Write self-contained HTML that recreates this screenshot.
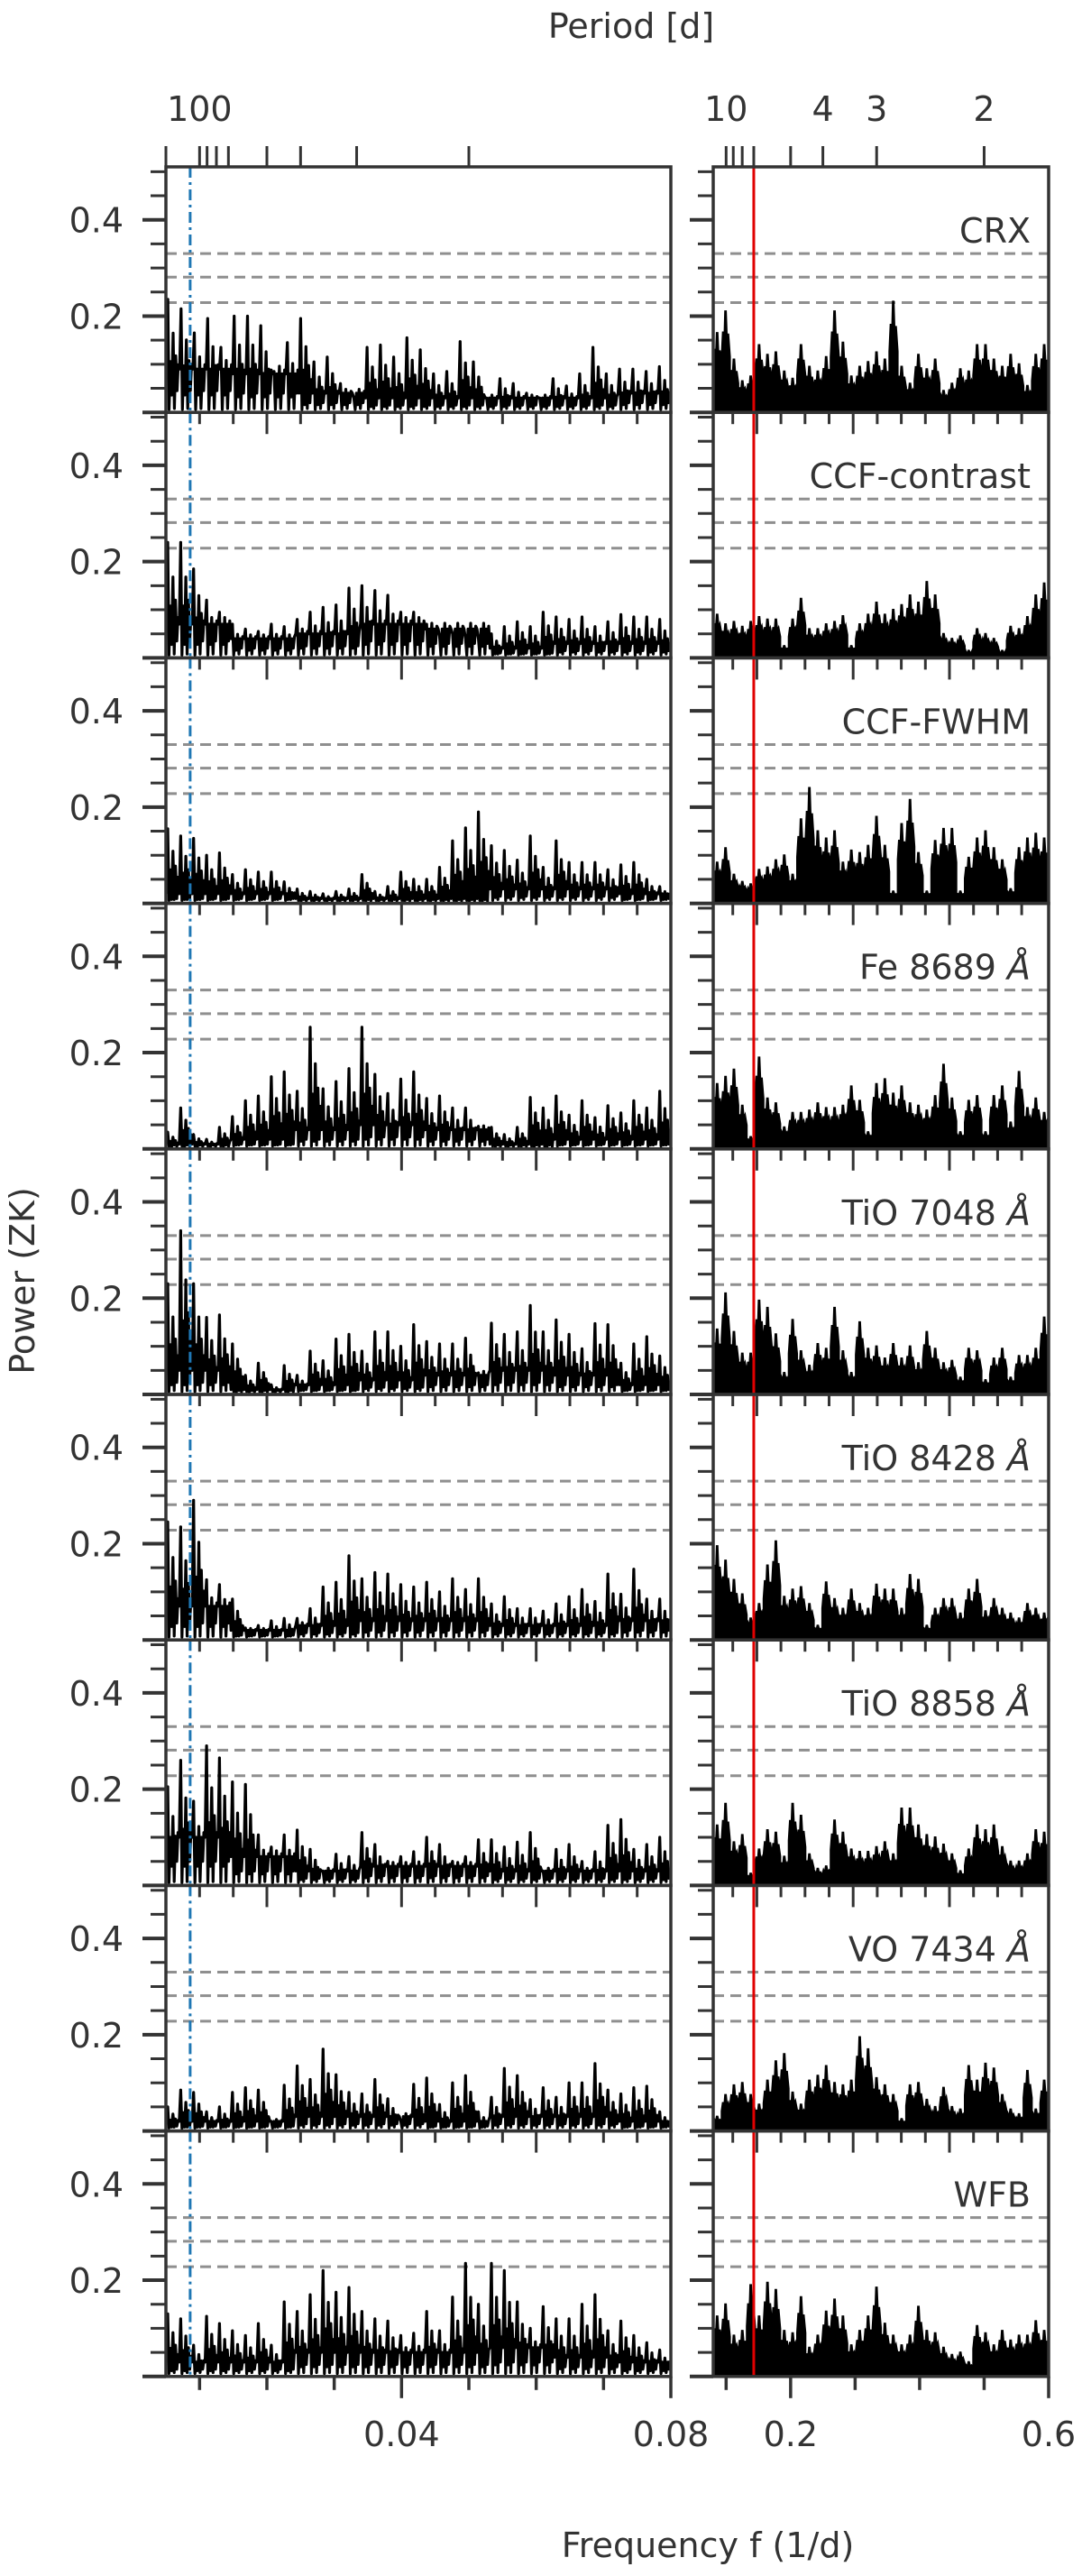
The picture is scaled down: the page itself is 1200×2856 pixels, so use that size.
<!DOCTYPE html>
<html><head><meta charset="utf-8">
<style>
html,body{margin:0;padding:0;background:#fff;}
svg text{font-family:"DejaVu Sans","Liberation Sans",sans-serif;fill:#333;}
</style></head>
<body>
<svg id="fig" xmlns="http://www.w3.org/2000/svg" width="1200" height="2851" viewBox="0 0 1200 2851">
<text x="700" y="42" font-size="38" text-anchor="middle">Period [d]</text>
<text x="785" y="2835" font-size="38" text-anchor="middle">Frequency f (1/d)</text>
<text x="0" y="0" font-size="38" text-anchor="middle" transform="translate(38,1420) rotate(-90)">Power (ZK)</text>
<g id="plots"></g>
</svg>
<script>
// ---- data ----
const panelNames = ["CRX","CCF-contrast","CCF-FWHM","Fe 8689 ","TiO 7048 ","TiO 8428 ","TiO 8858 ","VO 7434 ","WFB"];
const fapLevels = [0.33, 0.281, 0.228];
const blueLineFreq = 0.0086;
const redLineFreq = 1/7;
const topPeriodsLeft = [200,100,90,80,70,50,40,30,20];
const topPeriodsRight = [10,9,8,7,5,4,3,2];
const topLabelPeriods = [100,10,4,3,2];
const yTickLabels = [0.2,0.4];

const crxLeft = [0.235,0.215,0.165,0.195,0.135,0.2,0.2,0.18,0.085,0.145,0.195,0.105,0.115,0.06,0.03,0.135,0.14,0.115,0.155,0.13,0.08,0.085,0.147,0.105,0.03,0.07,0.06,0.04,0.03,0.07,0.055,0.08,0.135,0.08,0.09,0.09,0.085,0.095];
const crxBase = [0.09,0.08,0.04,0.03,0.03,0.03,0.03,0.04];
const ccfcLeft = [0.24,0.24,0.185,0.12,0.095,0.07,0.06,0.055,0.07,0.065,0.08,0.095,0.105,0.11,0.145,0.15,0.14,0.13,0.095,0.095,0.07,0.045,0.05,0.04,0.04,0.05,0.065,0.075,0.065,0.095,0.085,0.08,0.085,0.065,0.075,0.09,0.085,0.085,0.08];
const ccfcBase = [0.07,0.04,0.05,0.07,0.06,0.02,0.03,0.03];
const ccfwLeft = [0.155,0.14,0.135,0.1,0.105,0.06,0.07,0.065,0.065,0.045,0.03,0.025,0.02,0.025,0.03,0.06,0.025,0.035,0.065,0.05,0.05,0.075,0.13,0.157,0.19,0.12,0.11,0.09,0.14,0.075,0.13,0.085,0.085,0.085,0.07,0.08,0.085,0.05,0.035];
const ccfwBase = [0.02,0.02,0.01,0.01,0.01,0.03,0.03,0.02];
const feLeft = [0.035,0.085,0.03,0.02,0.045,0.067,0.1,0.11,0.15,0.16,0.12,0.253,0.125,0.14,0.167,0.253,0.155,0.115,0.145,0.16,0.105,0.11,0.085,0.085,0.047,0.045,0.03,0.045,0.107,0.085,0.11,0.07,0.1,0.065,0.09,0.075,0.1,0.085,0.12];
const feBase = [0.01,0.02,0.04,0.05,0.04,0.01,0.02,0.02];
const tio7048Left = [0.23,0.34,0.23,0.16,0.165,0.105,0.04,0.065,0.02,0.06,0.04,0.09,0.07,0.115,0.125,0.09,0.13,0.13,0.1,0.145,0.11,0.105,0.105,0.117,0.045,0.148,0.125,0.13,0.185,0.13,0.155,0.125,0.095,0.147,0.145,0.065,0.105,0.12,0.08];
const tio7048Base = [0.05,0.01,0.02,0.03,0.04,0.05,0.04,0.02];
const tio8428Left = [0.245,0.235,0.29,0.125,0.115,0.085,0.025,0.03,0.04,0.045,0.045,0.065,0.11,0.12,0.175,0.127,0.14,0.137,0.115,0.11,0.12,0.1,0.127,0.105,0.127,0.075,0.09,0.065,0.065,0.06,0.075,0.09,0.105,0.08,0.137,0.095,0.147,0.085,0.085];
const tio8428Base = [0.07,0.02,0.03,0.04,0.04,0.03,0.03,0.04];
const tio8858Left = [0.205,0.26,0.175,0.29,0.265,0.215,0.21,0.105,0.08,0.105,0.115,0.075,0.03,0.065,0.06,0.11,0.085,0.05,0.06,0.07,0.1,0.085,0.05,0.06,0.095,0.095,0.08,0.09,0.11,0.03,0.075,0.085,0.05,0.07,0.125,0.137,0.075,0.085,0.1];
const tio8858Base = [0.1,0.06,0.03,0.04,0.04,0.03,0.03,0.03];
const voLeft = [0.05,0.085,0.08,0.04,0.05,0.08,0.09,0.085,0.02,0.095,0.135,0.107,0.17,0.117,0.08,0.077,0.107,0.067,0.02,0.097,0.11,0.055,0.1,0.115,0.04,0.07,0.13,0.115,0.065,0.09,0.07,0.1,0.1,0.14,0.085,0.077,0.09,0.093,0.04];
const voBase = [0.02,0.02,0.03,0.03,0.02,0.03,0.03,0.02];
const wfbLeft = [0.13,0.12,0.065,0.125,0.11,0.095,0.085,0.11,0.065,0.155,0.135,0.17,0.22,0.175,0.185,0.135,0.12,0.115,0.085,0.09,0.135,0.095,0.165,0.235,0.15,0.235,0.22,0.155,0.1,0.145,0.12,0.12,0.15,0.17,0.095,0.115,0.085,0.07,0.055];
const wfbBase = [0.03,0.03,0.05,0.05,0.05,0.06,0.04,0.03];

const crxRight = [0.165,0.21,0.11,0.065,0.075,0.14,0.12,0.125,0.085,0.07,0.14,0.095,0.085,0.115,0.21,0.145,0.075,0.095,0.105,0.125,0.11,0.23,0.095,0.06,0.12,0.09,0.11,0.045,0.06,0.09,0.085,0.14,0.14,0.11,0.095,0.12,0.1,0.055,0.12,0.14];
const ccfcRight = [0.09,0.07,0.075,0.065,0.075,0.085,0.08,0.08,0.025,0.08,0.123,0.06,0.06,0.07,0.075,0.087,0.025,0.07,0.09,0.115,0.09,0.1,0.11,0.13,0.115,0.158,0.13,0.05,0.04,0.045,0.015,0.06,0.05,0.04,0.015,0.065,0.06,0.085,0.13,0.155];
const ccfwRight = [0.085,0.115,0.06,0.045,0.04,0.07,0.075,0.09,0.1,0.06,0.175,0.24,0.15,0.135,0.15,0.085,0.11,0.105,0.12,0.18,0.12,0.025,0.165,0.215,0.105,0.025,0.13,0.155,0.155,0.025,0.095,0.135,0.15,0.115,0.09,0.03,0.115,0.135,0.145,0.135];
const feRight = [0.135,0.15,0.165,0.09,0.025,0.19,0.105,0.095,0.045,0.075,0.075,0.08,0.095,0.085,0.085,0.09,0.13,0.1,0.035,0.135,0.145,0.115,0.13,0.095,0.09,0.08,0.11,0.175,0.105,0.035,0.1,0.11,0.035,0.11,0.13,0.055,0.16,0.085,0.105,0.075];
const tio7048Right = [0.135,0.21,0.13,0.085,0.085,0.195,0.18,0.125,0.045,0.155,0.09,0.06,0.105,0.095,0.18,0.09,0.045,0.15,0.095,0.1,0.075,0.105,0.075,0.1,0.065,0.13,0.095,0.065,0.07,0.035,0.095,0.09,0.03,0.075,0.095,0.035,0.08,0.08,0.095,0.16];
const tio8428Right = [0.195,0.165,0.125,0.095,0.045,0.075,0.155,0.205,0.09,0.105,0.11,0.075,0.03,0.12,0.085,0.065,0.105,0.075,0.065,0.115,0.105,0.105,0.065,0.135,0.125,0.03,0.065,0.085,0.085,0.055,0.105,0.125,0.06,0.085,0.065,0.055,0.045,0.075,0.065,0.055];
const tio8858Right = [0.125,0.17,0.09,0.105,0.025,0.075,0.115,0.11,0.06,0.17,0.145,0.065,0.035,0.04,0.135,0.11,0.075,0.07,0.07,0.08,0.09,0.065,0.16,0.16,0.125,0.105,0.1,0.085,0.065,0.03,0.075,0.125,0.115,0.125,0.08,0.05,0.05,0.065,0.115,0.11];
const voRight = [0.03,0.075,0.095,0.1,0.075,0.055,0.105,0.145,0.16,0.08,0.055,0.105,0.115,0.135,0.1,0.095,0.105,0.195,0.17,0.11,0.095,0.075,0.025,0.095,0.1,0.065,0.05,0.09,0.05,0.045,0.135,0.105,0.14,0.13,0.075,0.045,0.035,0.125,0.045,0.105];
const wfbRight = [0.125,0.15,0.085,0.095,0.19,0.125,0.195,0.18,0.095,0.09,0.165,0.06,0.085,0.135,0.16,0.125,0.065,0.095,0.125,0.185,0.11,0.085,0.065,0.085,0.145,0.095,0.09,0.06,0.045,0.05,0.03,0.105,0.09,0.065,0.095,0.075,0.085,0.085,0.115,0.095];

const leftSeries = [crxLeft,ccfcLeft,ccfwLeft,feLeft,tio7048Left,tio8428Left,tio8858Left,voLeft,wfbLeft];
const leftBases = [crxBase,ccfcBase,ccfwBase,feBase,tio7048Base,tio8428Base,tio8858Base,voBase,wfbBase];
const rightSeries = [crxRight,ccfcRight,ccfwRight,feRight,tio7048Right,tio8428Right,tio8858Right,voRight,wfbRight];

// ---- geometry ----
const NS = "http://www.w3.org/2000/svg";
const TOP = 185, PH = 272.2, YMAX = 0.51;
const LX0 = 184, LX1 = 744, LF0 = 0.005, LF1 = 0.08;
const RX0 = 791, RX1 = 1163, RF0 = 0.08, RF1 = 0.6;
function xL(f){ return LX0 + (f - LF0) / (LF1 - LF0) * (LX1 - LX0); }
function xR(f){ return RX0 + (f - RF0) / (RF1 - RF0) * (RX1 - RX0); }
function yP(i, v){ return TOP + (i + 1) * PH - v * PH / YMAX; }
const root = document.getElementById('plots');
function mk(tag, attrs, parent){
  const e = document.createElementNS(NS, tag);
  for (const k in attrs) e.setAttribute(k, attrs[k]);
  (parent || root).appendChild(e);
  return e;
}
const defs = mk('defs', {});

for (let i = 0; i < 9; i++) {
  const top = TOP + i * PH, bot = top + PH;
  const g = mk('g', {});
  
  
  const cl = mk('clipPath', {id: 'cl' + i}, defs);
  mk('rect', {x: LX0, y: top, width: LX1 - LX0, height: PH}, cl);
  const cr = mk('clipPath', {id: 'cr' + i}, defs);
  mk('rect', {x: RX0, y: top, width: RX1 - RX0, height: PH}, cr);

  fapLevels.forEach(function(v){
    const a = mk('line', {x1: LX0, x2: LX1, y1: yP(i, v), y2: yP(i, v), stroke: '#8f8f8f', 'stroke-width': 3, 'stroke-dasharray': '12 7'}, g);
    
    
    const b = mk('line', {x1: RX0, x2: RX1, y1: yP(i, v), y2: yP(i, v), stroke: '#8f8f8f', 'stroke-width': 3, 'stroke-dasharray': '12 7'}, g);
    
    
  });

  // left series
  const pk = leftSeries[i], bs = leftBases[i], N = pk.length;
  let pts = [];
  for (let k = 0; k < N; k++) {
    const fa = LF0 + k * (LF1 - LF0) / N;
    const x0 = xL(fa), w = xL(fa + (LF1 - LF0) / N) - x0;
    const p = pk[k], b = bs[Math.min(bs.length - 1, Math.floor(k * bs.length / N))];
    pts.push([x0 + 0.03 * w, b]);
    pts.push([x0 + 0.14 * w, p]);
    pts.push([x0 + 0.24 * w, 0.006]);
    pts.push([x0 + 0.34 * w, Math.max(b, p * 0.45)]);
    pts.push([x0 + 0.44 * w, b * 0.4]);
    pts.push([x0 + 0.54 * w, Math.max(b * 1.2, p * 0.7)]);
    pts.push([x0 + 0.64 * w, 0.008]);
    pts.push([x0 + 0.74 * w, Math.max(b, p * 0.5)]);
    pts.push([x0 + 0.84 * w, b * 0.5]);
    pts.push([x0 + 0.93 * w, Math.max(b * 1.1, p * 0.35)]);
  }
  const ls = mk('polyline', {points: pts.map(function(q){ return q[0].toFixed(1) + ',' + yP(i, q[1]).toFixed(1); }).join(' '), fill: 'none', stroke: '#000', 'stroke-width': 3.2, 'stroke-linejoin': 'round', 'clip-path': 'url(#cl' + i + ')'}, g);
  
  

  // right series
  const rs = rightSeries[i], M = rs.length;
  let rp = [[RX0, yP(i, 0)]];
  for (let k = 0; k < M; k++) {
    const fa = RF0 + k * (RF1 - RF0) / M;
    const x0 = xR(fa), w = xR(fa + (RF1 - RF0) / M) - x0;
    const p = rs[k];
    rp.push([x0, yP(i, Math.max(0.02, p * 0.55))]);
    rp.push([x0 + 0.15 * w, yP(i, p * 0.8)]);
    rp.push([x0 + 0.3 * w, yP(i, p * 0.65)]);
    rp.push([x0 + 0.42 * w, yP(i, p)]);
    rp.push([x0 + 0.52 * w, yP(i, p)]);
    rp.push([x0 + 0.65 * w, yP(i, p * 0.7)]);
    rp.push([x0 + 0.8 * w, yP(i, p * 0.78)]);
    rp.push([x0 + w, yP(i, Math.max(0.02, p * 0.55))]);
  }
  rp.push([RX1, yP(i, 0)]);
  const rf = mk('polygon', {points: rp.map(function(q){ return q[0].toFixed(1) + ',' + q[1].toFixed(1); }).join(' '), fill: '#000', stroke: '#000', 'stroke-width': 2, 'clip-path': 'url(#cr' + i + ')'}, g);
  
  

  const bl = mk('line', {x1: xL(blueLineFreq), x2: xL(blueLineFreq), y1: top, y2: bot, stroke: '#1f77b4', 'stroke-width': 3, 'stroke-dasharray': '12 5 3 5'}, g);
  
  
  const rl = mk('line', {x1: xR(redLineFreq), x2: xR(redLineFreq), y1: top, y2: bot, stroke: '#e00000', 'stroke-width': 3}, g);
  
  

  const fl = mk('rect', {x: LX0, y: top, width: LX1 - LX0, height: PH, fill: 'none', stroke: '#333', 'stroke-width': 3.5}, g);
  
  
  const fr = mk('rect', {x: RX0, y: top, width: RX1 - RX0, height: PH, fill: 'none', stroke: '#333', 'stroke-width': 3.5}, g);
  
  

  for (let t = 0; t <= 10; t++) {
    const v = t * 0.05, y = yP(i, v), major = (t % 4 === 0);
    const len = major ? 26 : 17, sw = major ? 4 : 3;
    mk('line', {x1: LX0 - len, x2: LX0, y1: y, y2: y, stroke: '#333', 'stroke-width': sw}, g);
    mk('line', {x1: RX0 - len, x2: RX0, y1: y, y2: y, stroke: '#333', 'stroke-width': sw}, g);
  }
  yTickLabels.forEach(function(v){
    const tx = mk('text', {x: 137, y: yP(i, v) + 14, 'font-size': 38, 'text-anchor': 'end'}, g);
    
    
    tx.textContent = v.toFixed(1);
  });

  const lab = mk('text', {x: 1143, y: top + 84, 'font-size': 38, 'text-anchor': 'end'}, g);
  
  
  lab.textContent = panelNames[i];
  if (i >= 3 && i <= 7) {
    const ts = mk('tspan', {'font-style': 'italic'}, lab);
    ts.textContent = 'Å';
  }

  if (i < 8) {
    for (let k = 1; k <= 14; k++) {
      const f = 0.005 + k * 0.005, x = xL(f);
      const major = Math.abs(f / 0.02 - Math.round(f / 0.02)) < 1e-6;
      mk('line', {x1: x, x2: x, y1: bot, y2: bot + (major ? 24 : 13), stroke: '#333', 'stroke-width': 3}, g);
    }
    for (let k = 0; k <= 12; k++) {
      const x = 812.7 + k * 26.7, major = (k % 4 === 1);
      mk('line', {x1: x, x2: x, y1: bot, y2: bot + (major ? 24 : 13), stroke: '#333', 'stroke-width': 3}, g);
    }
  } else {
    [0.01,0.02,0.03,0.04,0.05,0.06,0.07,0.08].forEach(function(f){
      const major = (f === 0.04 || f === 0.08);
      mk('line', {x1: xL(f), x2: xL(f), y1: bot, y2: bot + (major ? 24 : 15), stroke: '#333', 'stroke-width': 3.5}, g);
    });
    [0.1,0.2,0.3,0.4,0.5,0.6].forEach(function(f){
      const major = (f === 0.2 || f === 0.6);
      mk('line', {x1: xR(f), x2: xR(f), y1: bot, y2: bot + (major ? 24 : 15), stroke: '#333', 'stroke-width': 3.5}, g);
    });
    [[xL(0.04),'0.04'],[xL(0.08),'0.08'],[xR(0.2),'0.2'],[xR(0.6),'0.6']].forEach(function(a){
      const tx = mk('text', {x: a[0], y: 2712, 'font-size': 38, 'text-anchor': 'middle'}, g);
      
      
      tx.textContent = a[1];
    });
  }
}

topPeriodsLeft.forEach(function(P){
  const x = xL(1 / P);
  const t = mk('line', {x1: x, x2: x, y1: TOP, y2: TOP - 23, stroke: '#333', 'stroke-width': 3});
  
  
});
topPeriodsRight.forEach(function(P){
  const x = xR(1 / P);
  const t = mk('line', {x1: x, x2: x, y1: TOP, y2: TOP - 23, stroke: '#333', 'stroke-width': 3});
  
  
});
topLabelPeriods.forEach(function(P){
  const x = (1 / P <= LF1) ? xL(1 / P) : xR(1 / P);
  const tx = mk('text', {x: x, y: 134, 'font-size': 38, 'text-anchor': 'middle'});
  
  
  tx.textContent = String(P);
});
</script>
</body></html>
